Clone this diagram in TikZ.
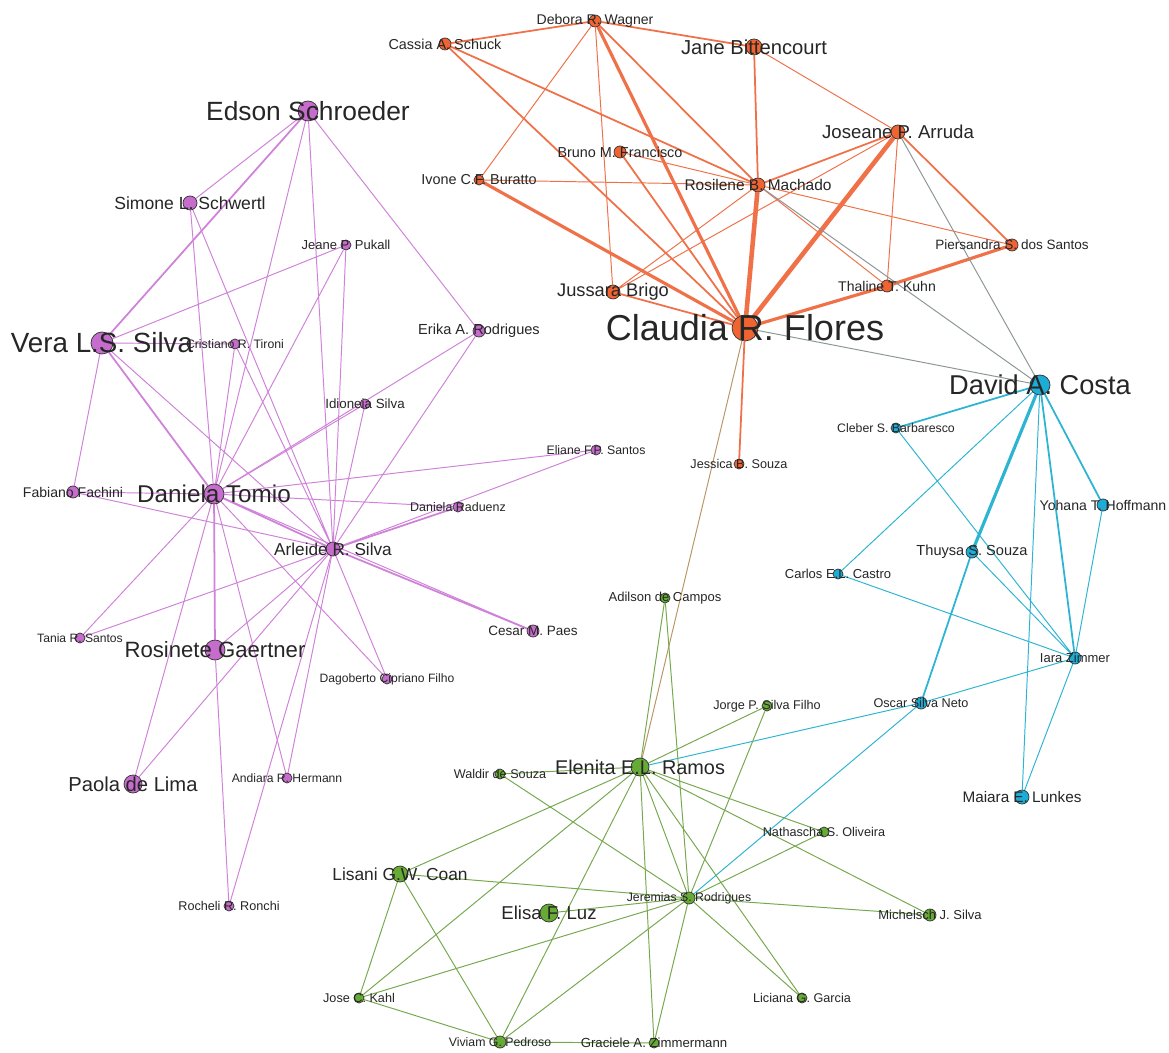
\documentclass[tikz,border=0pt]{standalone}
\usepackage{fontspec}
\setmainfont{Liberation Sans}
\pgfdeclarelayer{edges}
\pgfsetlayers{edges,main}

\definecolor{roxo}{RGB}{198,108,204}
\definecolor{laranja}{RGB}{240,100,50}
\definecolor{azul}{RGB}{28,172,214}
\definecolor{verde}{RGB}{102,172,52}
\definecolor{aroxo}{RGB}{208,130,218}
\definecolor{alaranja}{RGB}{240,112,72}
\definecolor{aazul}{RGB}{45,180,210}
\definecolor{averde}{RGB}{118,168,78}
\definecolor{cinza}{RGB}{140,150,150}
\definecolor{misto}{RGB}{185,150,100}

\begin{document}
\begin{tikzpicture}[x=0.02cm,y=-0.02cm,
  autor/.style={circle,draw=black!80,line width=0.4pt,inner sep=0pt,minimum size=#1*0.4mm},
  nlar/.style={autor=#1,fill=laranja},
  nazul/.style={autor=#1,fill=azul},
  nverde/.style={autor=#1,fill=verde},
  nroxo/.style={autor=#1,fill=roxo},
  nome/.style={font=\fontsize{#1}{#1}\selectfont,text=black!85},
  e1/.style={line width=0.55pt},
  e2/.style={line width=1pt},
  e3/.style={line width=1.8pt},
  e4/.style={line width=2.6pt}]
  \useasboundingbox (0,0) rectangle (1169,1053);

  % orange group:
  \node[nlar=6,label={[nome=8]center:Debora R. Wagner}] (debora) at (595,21) {};
  \node[nlar=6,label={[nome=8.2]center:Cassia A. Schuck}] (cassia) at (445,44) {};
  \node[nlar=8,label={[nome=11.5]center:Jane Bittencourt}] (jane) at (754,47) {};
  \node[nlar=7,label={[nome=10.6]center:Joseane P. Arruda}] (joseane) at (898,132) {};
  \node[nlar=6,label={[nome=8.2]center:Bruno M. Francisco}] (bruno) at (620,152) {};
  \node[nlar=5,label={[nome=8.2]center:Ivone C.F. Buratto}] (ivone) at (479,180) {};
  \node[nlar=7,label={[nome=8.8]center:Rosilene B. Machado}] (rosilene) at (758,185) {};
  \node[nlar=6,label={[nome=7.7]center:Piersandra S. dos Santos}] (piersandra) at (1012,245) {};
  \node[nlar=6,label={[nome=8]center:Thaline T. Kuhn}] (thaline) at (887,286) {};
  \node[nlar=7,label={[nome=10.4]center:Jussara Brigo}] (jussara) at (613,292) {};
  \node[nlar=13,label={[nome=20.5]center:Claudia R. Flores}] (claudia) at (745,328) {};
  \node[nlar=5,label={[nome=7.2]center:Jessica B. Souza}] (jessica) at (739,464) {};

  % blue group:
  \node[nazul=10,label={[nome=15.5]center:David A. Costa}] (david) at (1040,385) {};
  \node[nazul=5,label={[nome=7]center:Cleber S. Barbaresco}] (cleber) at (896,428) {};
  \node[nazul=6,label={[nome=8]center:Yohana T. Hoffmann}] (yohana) at (1103,505) {};
  \node[nazul=6,label={[nome=8.3]center:Thuysa S. Souza}] (thuysa) at (972,552) {};
  \node[nazul=5,label={[nome=7.4]center:Carlos E.L. Castro}] (carlos) at (838,574) {};
  \node[nazul=6,label={[nome=7.4]center:Iara Zimmer}] (iara) at (1075,658) {};
  \node[nazul=6,label={[nome=7.2]center:Oscar Silva Neto}] (oscar) at (921,703) {};
  \node[nazul=7,label={[nome=8.7]center:Maiara E. Lunkes}] (maiara) at (1022,797) {};

  % green group:
  \node[nverde=5,label={[nome=7.4]center:Adilson de Campos}] (adilson) at (665,598) {};
  \node[nverde=5,label={[nome=7.2]center:Jorge P. Silva Filho}] (jorge) at (767,706) {};
  \node[nverde=9,label={[nome=11.3]center:Elenita E.L. Ramos}] (elenita) at (640,767) {};
  \node[nverde=5,label={[nome=7.2]center:Waldir de Souza}] (waldir) at (500,774) {};
  \node[nverde=5,label={[nome=7.2]center:Nathascha S. Oliveira}] (nathascha) at (824,832) {};
  \node[nverde=8,label={[nome=9.9]center:Lisani G.W. Coan}] (lisani) at (400,874) {};
  \node[nverde=6,label={[nome=7]center:Jeremias S. Rodrigues}] (jeremias) at (689,898) {};
  \node[nverde=9,label={[nome=10.6]center:Elisa F. Luz}] (elisa) at (549,913) {};
  \node[nverde=6,label={[nome=7.4]center:Michelsch J. Silva}] (michelsch) at (930,915) {};
  \node[nverde=5,label={[nome=7.2]center:Jose C. Kahl}] (jose) at (359,998) {};
  \node[nverde=5,label={[nome=7.2]center:Liciana G. Garcia}] (liciana) at (802,998) {};
  \node[nverde=6,label={[nome=7]center:Viviam G. Pedroso}] (viviam) at (500,1042) {};
  \node[nverde=5,label={[nome=7.5]center:Graciele A. Zimmermann}] (graciele) at (654,1043) {};

  % purple group:
  \node[nroxo=10,label={[nome=15]center:Edson Schroeder}] (edson) at (308,111) {};
  \node[nroxo=7,label={[nome=10]center:Simone L. Schwertl}] (simone) at (190,203) {};
  \node[nroxo=5,label={[nome=7.4]center:Jeane P. Pukall}] (jeane) at (346,245) {};
  \node[nroxo=11,label={[nome=15.8]center:Vera L.S. Silva}] (vera) at (102,343) {};
  \node[nroxo=5,label={[nome=7]center:Cristiano R. Tironi}] (cristiano) at (235,344) {};
  \node[nroxo=6,label={[nome=8.3]center:Erika A. Rodrigues}] (erika) at (479,331) {};
  \node[nroxo=5,label={[nome=7.6]center:Idioneia Silva}] (idioneia) at (365,404) {};
  \node[nroxo=5,label={[nome=7]center:Eliane F.P. Santos}] (eliane) at (596,450) {};
  \node[nroxo=6,label={[nome=8]center:Fabiano Fachini}] (fabiano) at (73,492) {};
  \node[nroxo=10,label={[nome=13.8]center:Daniela Tomio}] (tomio) at (214,494) {};
  \node[nroxo=5,label={[nome=7.1]center:Daniela Raduenz}] (raduenz) at (458,507) {};
  \node[nroxo=7,label={[nome=9.8]center:Arleide R. Silva}] (arleide) at (333,549) {};
  \node[nroxo=5,label={[nome=6.9]center:Tania R. Santos}] (tania) at (80,638) {};
  \node[nroxo=6,label={[nome=7.7]center:Cesar M. Paes}] (cesar) at (533,631) {};
  \node[nroxo=10,label={[nome=12.6]center:Rosinete Gaertner}] (rosinete) at (215,650) {};
  \node[nroxo=5,label={[nome=6.9]center:Dagoberto Cipriano Filho}] (dagoberto) at (387,679) {};
  \node[nroxo=9,label={[nome=11.5]center:Paola de Lima}] (paola) at (133,784) {};
  \node[nroxo=5,label={[nome=6.9]center:Andiara R. Hermann}] (andiara) at (287,778) {};
  \node[nroxo=5,label={[nome=7.2]center:Rocheli R. Ronchi}] (rocheli) at (229,906) {};

  \begin{pgfonlayer}{edges}
  % white sheet under the links:
  \fill[white] (0,0) rectangle (1169,1053);
  % orange links:
  \begin{scope}[alaranja]
    \draw[e1] (debora) -- (ivone) (debora) -- (jussara) (jane) -- (joseane)
      (joseane) -- (jussara) (joseane) -- (thaline) (rosilene) -- (thaline)
      (rosilene) -- (piersandra) (ivone) -- (rosilene) (bruno) -- (rosilene)
      (rosilene) -- (jussara);
    \draw[e2] (debora) -- (cassia) (debora) -- (jane) (debora) -- (rosilene)
      (cassia) -- (claudia) (cassia) -- (rosilene) (jane) -- (rosilene)
      (joseane) -- (rosilene) (joseane) -- (piersandra) (bruno) -- (claudia)
      (jussara) -- (claudia) (claudia) -- (jessica);
    \draw[e3] (debora) -- (claudia) (ivone) -- (claudia) (claudia) -- (thaline)
      (thaline) -- (piersandra);
    \draw[e4] (rosilene) -- (claudia) (joseane) -- (claudia);
  \end{scope}
  % links between groups:
  \draw[cinza,e1] (joseane) -- (david) (rosilene) -- (david) (claudia) -- (david);
  \draw[misto,e1] (claudia) -- (elenita);
  % blue links:
  \begin{scope}[aazul]
    \draw[e1] (david) -- (carlos) (david) -- (maiara) (yohana) -- (iara)
      (cleber) -- (iara) (thuysa) -- (iara) (carlos) -- (iara) (iara) -- (maiara)
      (iara) -- (oscar) (oscar) -- (elenita) (oscar) -- (jeremias);
    \draw[e2] (david) -- (cleber) (thuysa) -- (oscar) (david) -- (yohana)
      (david) -- (iara);
    \draw[e3] (david) -- (thuysa);
  \end{scope}
  % green links:
  \begin{scope}[averde,e1]
    \foreach \n in {adilson,waldir,jorge,nathascha,michelsch,jose,viviam,lisani,graciele,liciana,jeremias}
      \draw (elenita) -- (\n);
    \foreach \n in {adilson,waldir,jorge,nathascha,lisani,michelsch,elisa,jose,viviam,graciele,liciana}
      \draw (jeremias) -- (\n);
    \draw (lisani) -- (jose) (lisani) -- (viviam) (jose) -- (viviam) (viviam) -- (graciele);
  \end{scope}
  % purple links:
  \begin{scope}[aroxo]
    \draw[e1] (edson) -- (simone) (edson) -- (tomio) (edson) -- (arleide) (edson) -- (erika)
      (simone) -- (tomio) (simone) -- (arleide) (jeane) -- (vera) (jeane) -- (tomio)
      (jeane) -- (arleide) (vera) -- (cristiano) (vera) -- (fabiano) (vera) -- (arleide)
      (cristiano) -- (tomio) (cristiano) -- (arleide);
    \foreach \n in {erika,idioneia,eliane,raduenz,fabiano,paola,tania,andiara,dagoberto,cesar}
      \draw[e1] (tomio) -- (\n);
    \foreach \n in {erika,idioneia,eliane,fabiano,tania,rosinete,paola,dagoberto,andiara,rocheli}
      \draw[e1] (arleide) -- (\n);
    \draw[e1] (rosinete) -- (rocheli);
    \draw[e2] (edson) -- (vera) (vera) -- (tomio) (raduenz) -- (arleide)
      (tomio) -- (arleide) (tomio) -- (rosinete) (arleide) -- (cesar);
  \end{scope}
  \end{pgfonlayer}
\end{tikzpicture}
\end{document}
